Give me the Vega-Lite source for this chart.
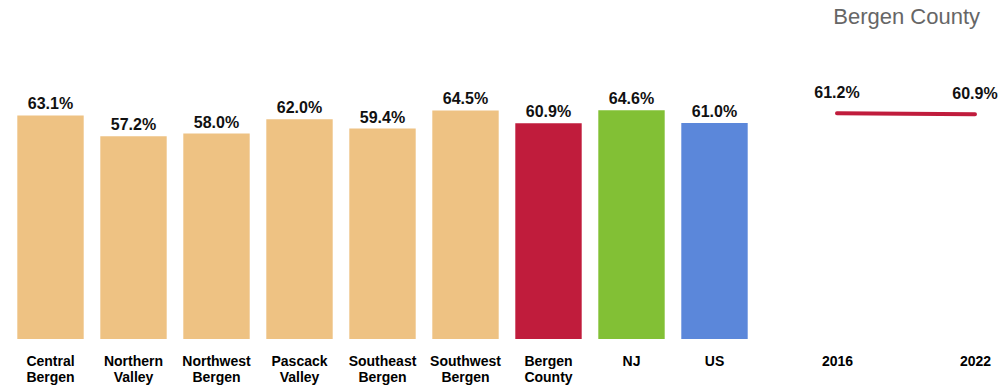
{
  "$schema": "https://vega.github.io/schema/vega-lite/v6.json",
  "autosize": {"type": "pad"},
  "padding": {"left": 9, "top": 6, "right": 5, "bottom": 5},
  "background": "white",
  "bounds": "flush",
  "spacing": 81,
  "config": {
    "view": {"stroke": null},
    "font": "Liberation Sans"
  },
  "datasets": {
    "bars": [
      {"area": "Central Bergen", "value": 0.631, "kind": "Region"},
      {"area": "Northern Valley", "value": 0.572, "kind": "Region"},
      {"area": "Northwest Bergen", "value": 0.580, "kind": "Region"},
      {"area": "Pascack Valley", "value": 0.620, "kind": "Region"},
      {"area": "Southeast Bergen", "value": 0.594, "kind": "Region"},
      {"area": "Southwest Bergen", "value": 0.645, "kind": "Region"},
      {"area": "Bergen County", "value": 0.609, "kind": "County"},
      {"area": "NJ", "value": 0.646, "kind": "State"},
      {"area": "US", "value": 0.610, "kind": "Nation"}
    ],
    "trend": [
      {"year": "2016", "value": 0.612},
      {"year": "2022", "value": 0.609}
    ]
  },
  "hconcat": [
    {
      "width": 747,
      "height": 248,
      "data": {"name": "bars"},
      "encoding": {
        "x": {
          "field": "area",
          "type": "nominal",
          "sort": null,
          "scale": {"paddingInner": 0.2, "paddingOuter": 0.1},
          "axis": {
            "title": null,
            "domain": false,
            "ticks": false,
            "labelAngle": 0,
            "labelFontSize": 14,
            "labelFontWeight": "bold",
            "labelColor": "#000000",
            "labelLineHeight": 16,
            "labelPadding": 15,
            "labelExpr": "split(datum.label, ' ')"
          }
        },
        "y": {
          "field": "value",
          "type": "quantitative",
          "scale": {"domain": [0, 0.70], "nice": false},
          "axis": null
        }
      },
      "layer": [
        {
          "mark": {"type": "bar"},
          "encoding": {
            "color": {
              "field": "kind",
              "type": "nominal",
              "scale": {
                "domain": ["Region", "County", "State", "Nation"],
                "range": ["#EEC283", "#C01C3C", "#82C035", "#5B87DA"]
              },
              "legend": null
            }
          }
        },
        {
          "mark": {"type": "text", "fontSize": 16, "fontWeight": "bold", "baseline": "alphabetic", "dy": -6, "color": "#111111"},
          "encoding": {
            "text": {"field": "value", "type": "quantitative", "format": ".1%"}
          }
        }
      ]
    },
    {
      "width": 138,
      "height": 248,
      "data": {"name": "trend"},
      "title": {
        "text": "Bergen County",
        "anchor": "end",
        "frame": "group",
        "fontSize": 22,
        "fontWeight": "normal",
        "font": "Liberation Sans",
        "color": "#666666",
        "offset": 56,
        "dx": 5
      },
      "encoding": {
        "x": {
          "field": "year",
          "type": "ordinal",
          "scale": {"type": "point", "padding": 0},
          "axis": {
            "title": null,
            "domain": false,
            "ticks": false,
            "labelAngle": 0,
            "labelFontSize": 14,
            "labelFontWeight": "bold",
            "labelColor": "#000000",
            "labelPadding": 15
          }
        },
        "y": {
          "field": "value",
          "type": "quantitative",
          "scale": {"domain": [0, 0.672], "nice": false},
          "axis": null
        }
      },
      "layer": [
        {
          "mark": {"type": "line", "color": "#C01C3C", "strokeWidth": 4, "strokeCap": "round"}
        },
        {
          "mark": {"type": "text", "fontSize": 16, "fontWeight": "bold", "baseline": "alphabetic", "dy": -15, "color": "#111111"},
          "encoding": {
            "text": {"field": "value", "type": "quantitative", "format": ".1%"}
          }
        }
      ]
    }
  ]
}
